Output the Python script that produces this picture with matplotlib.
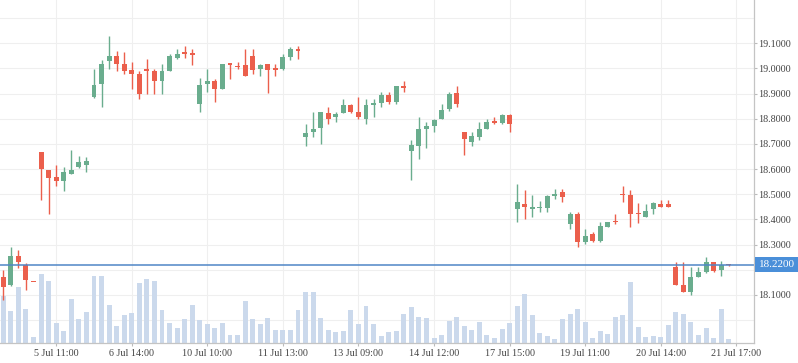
import matplotlib
matplotlib.use('Agg')
import matplotlib.pyplot as plt
from matplotlib.transforms import blended_transform_factory

plt.rcParams['font.family'] = ['Liberation Serif', 'DejaVu Serif']

# OHLC per candle, volume in relative units
opens = [18.170, 18.141, 18.254, 18.220, 18.152, 18.669, 18.598, 18.570, 18.552, 18.582,
         18.610, 18.618, 18.888, 18.939, 19.030, 19.049, 19.017, 18.993, 18.978, 18.997,
         18.989, 18.951, 18.991, 19.042, 19.064, 19.057, 18.860, 18.939, 18.950, 18.919,
         19.018, 19.009, 19.013, 19.049, 18.998, 19.017, 18.999, 18.997, 19.045, 19.076,
         18.728, 18.748, 18.764, 18.823, 18.809, 18.821, 18.855, 18.827, 18.801, 18.856,
         18.864, 18.894, 18.868, 18.930, 18.670, 18.690, 18.760, 18.772, 18.801, 18.840,
         18.902, 18.748, 18.709, 18.728, 18.760, 18.786, 18.785, 18.815, 18.441, 18.460,
         18.442, 18.445, 18.445, 18.493, 18.511, 18.382, 18.420, 18.311, 18.341, 18.315,
         18.370, 18.390, 18.499, 18.499, 18.422, 18.410, 18.441, 18.460, 18.460, 18.210,
         18.140, 18.113, 18.172, 18.193, 18.230, 18.200, 18.220]
highs = [18.199, 18.290, 18.278, 18.228, 18.152, 18.669, 18.598, 18.618, 18.610, 18.677,
         18.653, 18.649, 18.997, 19.033, 19.128, 19.068, 19.064, 19.025, 18.989, 19.037,
         18.997, 19.017, 19.057, 19.076, 19.088, 19.076, 18.962, 18.997, 18.958, 19.017,
         19.022, 19.025, 19.076, 19.076, 19.017, 19.017, 19.017, 19.057, 19.084, 19.088,
         18.780, 18.827, 18.827, 18.847, 18.827, 18.879, 18.859, 18.887, 18.879, 18.879,
         18.906, 18.906, 18.930, 18.950, 18.717, 18.808, 18.788, 18.800, 18.859, 18.906,
         18.930, 18.748, 18.748, 18.788, 18.800, 18.808, 18.819, 18.819, 18.539, 18.515,
         18.499, 18.475, 18.499, 18.519, 18.519, 18.428, 18.428, 18.361, 18.349, 18.389,
         18.389, 18.420, 18.531, 18.515, 18.464, 18.460, 18.468, 18.479, 18.479, 18.232,
         18.232, 18.210, 18.211, 18.250, 18.230, 18.233, 18.222]
lows = [18.081, 18.137, 18.208, 18.121, 18.150, 18.479, 18.421, 18.532, 18.512, 18.580,
        18.606, 18.590, 18.883, 18.848, 18.997, 18.991, 18.979, 18.919, 18.880, 18.900,
        18.900, 18.900, 18.991, 19.038, 19.042, 19.014, 18.828, 18.908, 18.868, 18.919,
        18.959, 18.998, 18.971, 18.979, 18.971, 18.904, 18.971, 18.993, 19.033, 19.038,
        18.693, 18.728, 18.701, 18.781, 18.789, 18.821, 18.821, 18.801, 18.781, 18.809,
        18.848, 18.860, 18.860, 18.906, 18.558, 18.642, 18.685, 18.748, 18.801, 18.832,
        18.847, 18.657, 18.693, 18.717, 18.760, 18.780, 18.781, 18.748, 18.390, 18.402,
        18.409, 18.429, 18.429, 18.481, 18.469, 18.361, 18.291, 18.303, 18.311, 18.311,
        18.370, 18.382, 18.469, 18.370, 18.386, 18.410, 18.421, 18.449, 18.449, 18.141,
        18.113, 18.101, 18.172, 18.186, 18.193, 18.176, 18.216]
closes = [18.133, 18.255, 18.232, 18.160, 18.150, 18.599, 18.564, 18.552, 18.590, 18.598,
          18.630, 18.634, 18.934, 19.017, 19.049, 19.018, 18.991, 18.979, 18.900, 18.991,
          18.951, 18.989, 19.049, 19.057, 19.057, 19.054, 18.934, 18.950, 18.919, 19.017,
          19.014, 19.005, 18.971, 18.994, 19.013, 18.994, 18.995, 19.045, 19.076, 19.070,
          18.744, 18.760, 18.827, 18.801, 18.819, 18.855, 18.827, 18.808, 18.855, 18.863,
          18.894, 18.867, 18.930, 18.922, 18.697, 18.760, 18.772, 18.796, 18.835, 18.898,
          18.859, 18.721, 18.732, 18.760, 18.788, 18.784, 18.815, 18.781, 18.468, 18.449,
          18.444, 18.447, 18.495, 18.503, 18.489, 18.420, 18.311, 18.333, 18.315, 18.373,
          18.389, 18.388, 18.497, 18.421, 18.420, 18.432, 18.464, 18.449, 18.449, 18.141,
          18.113, 18.170, 18.191, 18.229, 18.196, 18.219, 18.218]
volumes = [46.7, 31.7, 55.7, 33.7, 5.7, 68.7, 61.7, 19.7, 11.7, 43.7,
           23.7, 30.7, 66.7, 66.7, 37.7, 16.7, 27.7, 29.7, 60.0, 63.7,
           61.7, 32.7, 19.7, 14.7, 23.7, 38.5, 23.5, 19.3, 15.3, 20.3,
           8.3, 8.3, 42.3, 24.3, 19.3, 25.3, 13.3, 13.3, 13.3, 33.3,
           51.3, 51.3, 25.3, 13.3, 11.3, 12.3, 33.3, 19.3, 37.3, 19.3,
           7.3, 11.3, 12.3, 29.3, 36.3, 26.3, 25.3, 5.3, 8.3, 22.3,
           26.3, 17.3, 13.3, 21.3, 8.3, 5.3, 14.3, 20.3, 37.3, 49.3,
           28.3, 10.3, 7.3, 4.3, 24.3, 29.3, 34.3, 21.3, 5.3, 12.3,
           9.3, 26.3, 28.3, 61.3, 16.3, 6.5, 6.7, 5.7, 17.7, 30.7,
           28.7, 20.7, 7.7, 14.7, 4.7, 33.7, 3.7]

tick_idx = [7, 17, 27, 37, 47, 57, 67, 77, 87, 97]
tick_labels = ['5 Jul 11:00', '6 Jul 14:00', '10 Jul 10:00', '11 Jul 13:00',
               '13 Jul 09:00', '14 Jul 12:00', '17 Jul 15:00', '19 Jul 11:00',
               '20 Jul 14:00', '21 Jul 17:00']
price_ticks = [18.1, 18.3, 18.4, 18.5, 18.6, 18.7, 18.8, 18.9, 19.0, 19.1]
grid_prices = [18.0, 18.1, 18.2, 18.3, 18.4, 18.5, 18.6, 18.7, 18.8, 18.9, 19.0, 19.1, 19.2]
last_price = 18.22

UP = '#6aad8e'
DOWN = '#eb5f4c'
VOL = '#cbd9ec'
LINE = '#4f86c6'
BADGE = '#4a8fd9'
TXT = '#444444'

fig = plt.figure(figsize=(7.98, 3.63), dpi=100)
rect = [0, 20 / 363, 754 / 798, 343 / 363]
xlim = (-0.44, 99.35)
ylim = (17.909, 19.272)

# background layer: grid
ax_bg = fig.add_axes(rect)
ax_bg.set_xlim(xlim)
ax_bg.set_ylim(ylim)
ax_bg.set_xticks(tick_idx)
ax_bg.set_yticks(grid_prices)
ax_bg.grid(True, color='#efefef', linewidth=0.8)
ax_bg.tick_params(length=0, labelbottom=False, labelleft=False)
for s in ax_bg.spines.values():
    s.set_visible(False)

# volume layer
ax_vol = fig.add_axes(rect, sharex=ax_bg)
ax_vol.patch.set_visible(False)
ax_vol.bar(range(len(volumes)), volumes, width=0.66, color=VOL, linewidth=0)
ax_vol.set_ylim(0, 343)
ax_vol.axis('off')

# price layer
ax = fig.add_axes(rect, sharex=ax_bg)
ax.patch.set_visible(False)
ax.set_ylim(ylim)
for i, (o, h, l, c) in enumerate(zip(opens, highs, lows, closes)):
    col = UP if c >= o else DOWN
    ax.vlines(i, l, h, color=col, linewidth=1.0)
    ax.bar(i, max(abs(c - o), 0.006), bottom=min(o, c), width=0.66,
           color=col, linewidth=0)

ax.axhline(last_price, color=LINE, linewidth=1.1)

ax.set_xlim(xlim)
ax.set_xticks(tick_idx)
ax.set_xticklabels(tick_labels)
ax.yaxis.tick_right()
ax.set_yticks(price_ticks)
ax.set_yticklabels([f'{p:.4f}' for p in price_ticks])
ax.tick_params(axis='x', length=2.2, pad=2.0, labelsize=7.3, colors='#bbbbbb',
               labelcolor=TXT)
ax.tick_params(axis='y', length=1.8, pad=1.0, labelsize=7.3, colors='#bbbbbb',
               labelcolor=TXT)
for side in ['top', 'left']:
    ax.spines[side].set_visible(False)
for side in ['right', 'bottom']:
    ax.spines[side].set_color('#c4c4c4')
    ax.spines[side].set_linewidth(0.9)

trans = blended_transform_factory(ax.transAxes, ax.transData)
ax.annotate(f'{last_price:.4f}', xy=(1, last_price), xycoords=trans,
            xytext=(3.2, 0), textcoords='offset points', ha='left', va='center',
            color='white', fontsize=8.1, annotation_clip=False,
            bbox=dict(boxstyle='square,pad=0.28', fc=BADGE, ec='none'))

fig.savefig('out.png', dpi=100)
